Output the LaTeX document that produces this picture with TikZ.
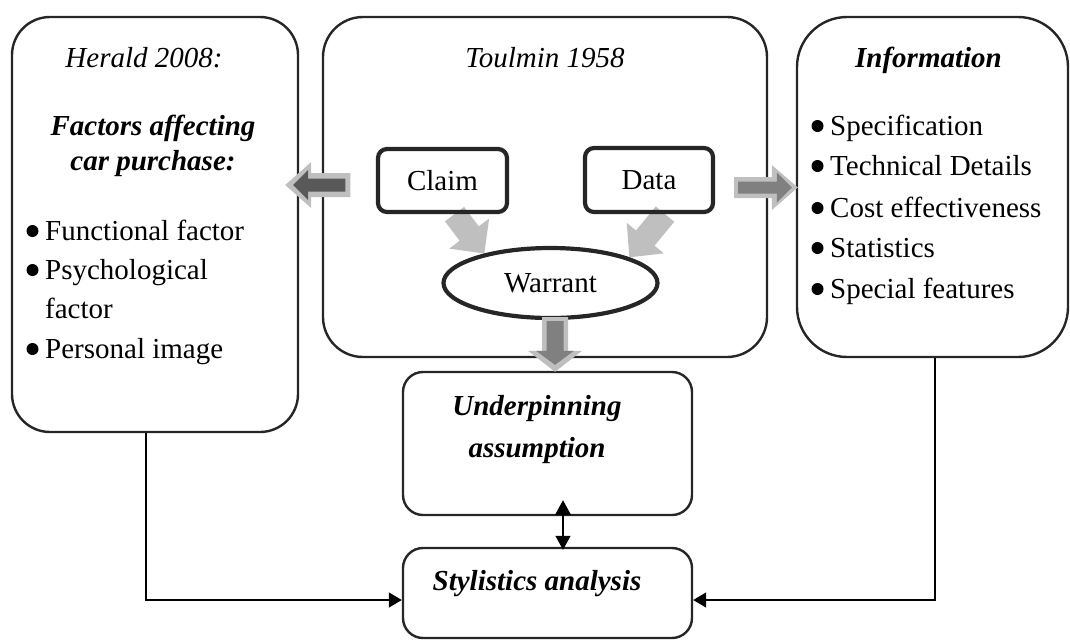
\documentclass[tikz,border=0pt]{standalone}
\usepackage{fontspec}
\setmainfont{Liberation Serif}
\usetikzlibrary{calc,arrows.meta,shapes.geometric,backgrounds}
\definecolor{lgray}{HTML}{BFBFBF}
\definecolor{mgray}{HTML}{808080}
\definecolor{dgray}{HTML}{595959}
\definecolor{edge}{HTML}{262626}
\newcommand\fatarrow[6]{%
  \coordinate (faA) at #1;
  \coordinate (faB) at #2;
  \coordinate (faH) at ($(faB)!#5!(faA)$);
  \fill[#6] ($(faA)!#3!90:(faB)$) -- ($(faH)!#3!90:(faB)$) -- ($(faH)!#4!90:(faB)$) -- (faB)
    -- ($(faH)!#4!-90:(faB)$) -- ($(faH)!#3!-90:(faB)$) -- ($(faA)!#3!-90:(faB)$) -- cycle;
}
\newcommand\bulletat[1]{\fill ([xshift=-12.5pt,yshift=9pt]#1.base west) circle[radius=6pt];}
\tikzset{
  bigbox/.style={draw=edge, line width=2.4pt, rounded corners=#1, inner sep=0pt},
  smallbox/.style={draw=edge, line width=4.2pt, rounded corners=9pt, inner sep=0pt,
    minimum width=129pt, minimum height=63pt, font=\fontsize{29pt}{35pt}\selectfont},
  txt/.style={inner sep=0pt, font=\fontsize{29pt}{35pt}\selectfont},
  conn/.style={draw=black, line width=1.3pt, -{Triangle[length=13pt,width=15pt]}},
  dconn/.style={draw=black, line width=1.3pt, {Triangle[length=15pt,width=16pt]}-{Triangle[length=14pt,width=15pt]}}
}
\begin{document}
\begin{tikzpicture}[x=1pt,y=-1pt]
\useasboundingbox (0,0) rectangle (1070,641);

% large boxes
\node[bigbox=38pt, minimum width=286pt, minimum height=415pt] (leftbox) at (155,224.5) {};
\node[bigbox=40pt, minimum width=444pt, minimum height=340pt] (centerbox) at (545,187) {};
\node[bigbox=50pt, minimum width=271pt, minimum height=340pt] (rightbox) at (932.5,187) {};
\node[bigbox=20pt, minimum width=289pt, minimum height=143pt] (under) at (547.5,443.5) {};
\node[bigbox=20pt, minimum width=289pt, minimum height=90pt] (styl) at (547.5,593) {};

% Toulmin inner nodes
\node[smallbox] (claim) at (442.5,180.5) {Claim};
\node[smallbox, minimum width=128pt, minimum height=64pt] (data) at (649,180) {Data};
\node[ellipse, draw=edge, line width=4.2pt, inner sep=0pt, minimum width=214pt, minimum height=70pt,
      font=\fontsize{29pt}{35pt}\selectfont] (warrant) at (550.5,283) {Warrant};

% diagonal arrows (behind)
\begin{pgfonlayer}{background}
\fatarrow{([xshift=12pt]claim.south)}{(warrant.156)}{12pt}{25pt}{25pt}{lgray}
\fatarrow{([xshift=16pt]data.south)}{(warrant.18)}{12pt}{24pt}{25pt}{lgray}
\end{pgfonlayer}

% outlined fat arrows
\fatarrow{([xshift=-25.5pt,yshift=-4.5pt]claim.west)}{([xshift=-14pt,yshift=-4.5pt]claim.west -| leftbox.east)}{12pt}{23pt}{26pt}{lgray}
\fatarrow{([xshift=-30.5pt,yshift=-4.5pt]claim.west)}{([xshift=-6pt,yshift=-4.5pt]claim.west -| leftbox.east)}{6.5pt}{15pt}{15pt}{dgray}
\fatarrow{([xshift=19pt,yshift=-7.5pt]data.east)}{([xshift=2pt,yshift=-7.5pt]data.east -| rightbox.west)}{10.5pt}{22.5pt}{26pt}{lgray}
\fatarrow{([xshift=23pt,yshift=-7.5pt]data.east)}{([xshift=-4pt,yshift=-7.5pt]data.east -| rightbox.west)}{6pt}{15pt}{15pt}{mgray}
\fatarrow{([xshift=4.5pt,yshift=3pt]warrant.south)}{([xshift=7.5pt,yshift=-1pt]under.north)}{13pt}{27pt}{21pt}{lgray}
\fatarrow{([xshift=4.5pt,yshift=-1pt]warrant.south)}{([xshift=7.5pt,yshift=6pt]under.north)}{8.5pt}{19pt}{14pt}{mgray}

% left box texts
\node[txt, anchor=base] (herald) at (144,67) {\itshape Herald 2008:};
\node[txt, anchor=base] (fac1) at (153,135) {\bfseries\itshape Factors affecting};
\node[txt, anchor=base] (fac2) at (153,170) {\bfseries\itshape car purchase:};
\node[txt, anchor=base west] (l1) at (45,240) {Functional factor};
\node[txt, anchor=base west] (l2) at (45,279) {Psychological};
\node[txt, anchor=base west] (l3) at (45,318) {factor};
\node[txt, anchor=base west] (l4) at (45,358) {Personal image};
\bulletat{l1}
\bulletat{l2}
\bulletat{l4}

% center / right texts
\node[txt, anchor=base] (toulmin) at (545,67) {\itshape Toulmin 1958};
\node[txt, anchor=base] (info) at (928.5,67) {\bfseries\itshape Information};
\node[txt, anchor=base west] (r1) at (830,135) {Specification};
\node[txt, anchor=base west] (r2) at (830,175) {Technical Details};
\node[txt, anchor=base west] (r3) at (830,217) {Cost effectiveness};
\node[txt, anchor=base west] (r4) at (830,257) {Statistics};
\node[txt, anchor=base west] (r5) at (830,298) {Special features};
\bulletat{r1}
\bulletat{r2}
\bulletat{r3}
\bulletat{r4}
\bulletat{r5}

% lower boxes texts
\node[txt, anchor=base] (u1) at (537,415) {\bfseries\itshape Underpinning};
\node[txt, anchor=base] (u2) at (537,457) {\bfseries\itshape assumption};
\node[txt, anchor=base] (s1) at (537,590) {\bfseries\itshape Stylistics analysis};

% connectors
\draw[conn] ([xshift=-9pt]leftbox.south) |- ([yshift=-7pt]styl.west);
\draw[conn] ([xshift=2.5pt]rightbox.south) |- ([yshift=-7pt]styl.east);
\draw[dconn] ([xshift=15.5pt,yshift=16pt]under.south) -- ([xshift=15.5pt,yshift=-3pt]styl.north);
\end{tikzpicture}
\end{document}
